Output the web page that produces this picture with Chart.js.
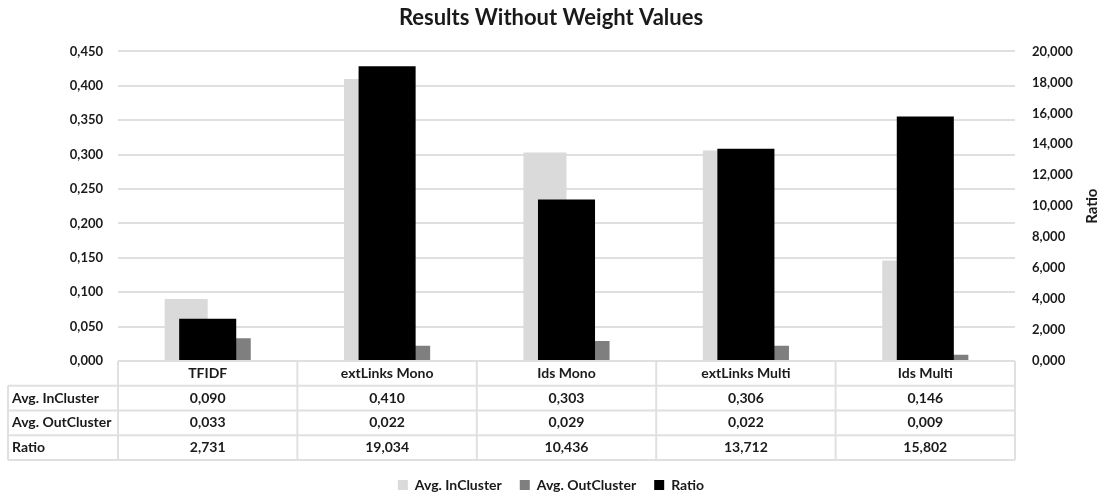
<!DOCTYPE html>
<html>
<head>
<meta charset="utf-8">
<title>Results Without Weight Values</title>
<script src="https://cdn.jsdelivr.net/npm/chart.js@4.4.0/dist/chart.umd.min.js"></script>
<style>
  html, body { margin: 0; padding: 0; background: #ffffff; }
  #wrap { width: 1102px; height: 495px; }
</style>
</head>
<body>
<div id="wrap"><canvas id="chart" width="1102" height="495"></canvas></div>
<script>
// Data
const categories = ['TFIDF', 'extLinks Mono', 'Ids Mono', 'extLinks Multi', 'Ids Multi'];
const seriesNames = ['Avg. InCluster', 'Avg. OutCluster', 'Ratio'];
const avgInCluster = [0.090, 0.410, 0.303, 0.306, 0.146];
const avgOutCluster = [0.033, 0.022, 0.029, 0.022, 0.009];
const ratio = [2.731, 19.034, 10.436, 13.712, 15.802];
const leftTicks = [0, 0.05, 0.10, 0.15, 0.20, 0.25, 0.30, 0.35, 0.40, 0.45];
const rightTicks = [0, 2, 4, 6, 8, 10, 12, 14, 16, 18, 20];

// Styles
const FONT = 'Lato, "Open Sans", sans-serif';
const TEXT = '#1a1a1a';
const GRID = '#e0e0e0';
const COLORS = ['#dadada', '#7f7f7f', '#000000'];

// three decimals with a decimal comma
const fmt = v => v.toFixed(3).replace('.', ',');

// Data table under the plot plus the rotated secondary axis title
const dataTable = {
  id: 'dataTable',
  afterDraw(chart) {
    const ctx = chart.ctx;
    const area = chart.chartArea;
    const xs = chart.scales.x;
    const n = categories.length;
    const colW = (area.right - area.left) / n;
    const top = area.bottom;
    const rowH = 24.75;
    const labelLeft = 8;
    const rows = [
      [seriesNames[0], avgInCluster],
      [seriesNames[1], avgOutCluster],
      [seriesNames[2], ratio]
    ];
    const bottom = top + (rows.length + 1) * rowH;
    const line = (x1, y1, x2, y2) => {
      ctx.beginPath(); ctx.moveTo(x1, y1); ctx.lineTo(x2, y2); ctx.stroke();
    };

    ctx.save();
    ctx.strokeStyle = GRID;
    ctx.lineWidth = 2;
    line(area.left, top, area.right, top);
    for (let r = 1; r <= rows.length + 1; r++) {
      line(labelLeft, top + r * rowH, area.right, top + r * rowH);
    }
    for (let i = 0; i <= n; i++) {
      const xp = area.left + i * colW;
      line(xp, top, xp, bottom);
    }
    line(labelLeft, top + rowH, labelLeft, bottom);

    ctx.fillStyle = TEXT;
    ctx.font = 'bold 14px ' + FONT;
    ctx.textBaseline = 'middle';
    ctx.textAlign = 'center';
    categories.forEach((c, i) => {
      ctx.fillText(c, xs.getPixelForValue(i), top + rowH / 2);
    });
    rows.forEach(([name, vals], r) => {
      const yc = top + (r + 1.5) * rowH;
      ctx.textAlign = 'left';
      ctx.fillText(name, labelLeft + 4, yc);
      ctx.textAlign = 'center';
      vals.forEach((v, i) => ctx.fillText(fmt(v), xs.getPixelForValue(i), yc));
    });

    // secondary axis title, reading bottom to top
    const y2 = chart.scales.y2;
    ctx.font = 'bold 15px ' + FONT;
    ctx.translate(y2.right - 10, (area.top + area.bottom) / 2);
    ctx.rotate(-Math.PI / 2);
    ctx.textAlign = 'center';
    ctx.fillText(seriesNames[2], 0, 0);
    ctx.restore();
  }
};

const tickFont = { family: FONT, size: 13, weight: 'bold' };

new Chart(document.getElementById('chart'), {
  type: 'bar',
  data: {
    labels: categories,
    datasets: [
      {
        label: seriesNames[0], data: avgInCluster, backgroundColor: COLORS[0],
        yAxisID: 'y', order: 1, categoryPercentage: 0.48, barPercentage: 1
      },
      {
        label: seriesNames[1], data: avgOutCluster, backgroundColor: COLORS[1],
        yAxisID: 'y', order: 1, categoryPercentage: 0.48, barPercentage: 1
      },
      {
        // secondary series, centred over each category on top of the pair
        label: seriesNames[2], data: ratio, backgroundColor: COLORS[2],
        yAxisID: 'y2', order: 0, grouped: false, categoryPercentage: 1, barPercentage: 0.318
      }
    ]
  },
  options: {
    responsive: false,
    animation: false,
    devicePixelRatio: 1,
    layout: { padding: 0 },
    plugins: {
      title: {
        display: true,
        text: 'Results Without Weight Values',
        color: TEXT,
        font: { family: FONT, size: 22, weight: 'bold' },
        padding: { top: 5, bottom: 20 }
      },
      legend: {
        position: 'bottom',
        maxHeight: 35,
        labels: {
          color: TEXT,
          font: { family: FONT, size: 14, weight: 'bold' },
          boxWidth: 10,
          boxHeight: 10,
          padding: 18,
          sort: (a, b) => a.datasetIndex - b.datasetIndex
        }
      },
      tooltip: { enabled: false }
    },
    scales: {
      x: {
        type: 'category',
        position: 'bottom',
        offset: true,
        grid: { display: false },
        border: { display: false },
        ticks: { display: false },
        afterFit: s => { s.height = 99; }
      },
      y: {
        position: 'left',
        min: 0,
        max: 0.45,
        afterBuildTicks: s => { s.ticks = leftTicks.map(v => ({ value: v })); },
        ticks: { color: TEXT, font: tickFont, padding: 15, callback: v => fmt(v) },
        grid: { color: GRID, lineWidth: 2, drawTicks: false },
        border: { display: false },
        afterFit: s => { s.width = 118; }
      },
      y2: {
        position: 'right',
        min: 0,
        max: 20,
        afterBuildTicks: s => { s.ticks = rightTicks.map(v => ({ value: v })); },
        ticks: { color: TEXT, font: tickFont, padding: 17, callback: v => fmt(v) },
        grid: { display: false, drawTicks: false },
        border: { display: false },
        afterFit: s => { s.width = 87; }
      }
    }
  },
  plugins: [dataTable]
});
</script>
</body>
</html>
